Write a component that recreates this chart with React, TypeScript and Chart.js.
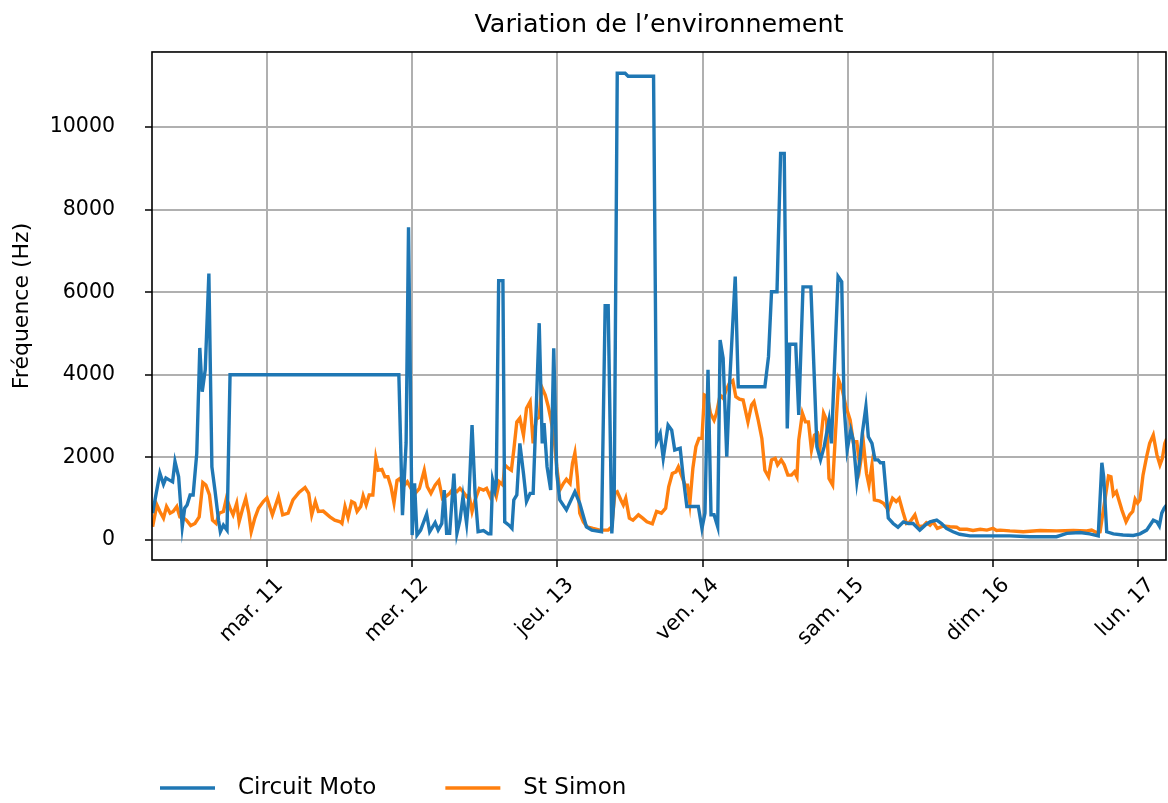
import React, { useEffect, useRef } from 'react';
import { Chart, registerables } from 'chart.js';

Chart.register(...registerables);

// Hours since Monday 10 March 00:00
const motoHours = [5.1,6.3,6.9,7.3,7.9,8.4,8.8,9.4,10.0,10.4,10.8,11.3,11.8,12.4,12.9,13.3,13.8,14.4,14.9,15.4,16.0,16.3,16.8,17.4,17.9,45.8,46.4,47.0,47.4,48.0,48.4,48.8,49.4,50.4,50.9,51.8,52.3,52.9,53.3,53.7,54.2,54.9,55.4,55.9,56.4,57.0,57.4,57.9,58.4,58.9,59.8,60.6,61.0,61.3,61.7,61.9,62.3,63.0,63.3,64.0,64.5,64.8,65.3,65.8,66.4,66.9,67.5,68.0,68.5,69.0,69.5,69.8,70.3,70.9,71.4,71.9,72.4,73.5,74.9,75.7,76.8,77.7,79.3,79.9,80.4,81.0,81.4,81.9,83.2,83.7,87.9,88.4,89.0,89.5,90.3,90.9,91.4,92.3,92.8,93.4,95.3,95.9,96.4,96.9,97.4,97.9,98.5,98.9,99.4,100.0,100.5,101.4,101.9,106.3,106.9,107.4,108.3,108.9,109.5,110.0,110.4,111.4,111.9,112.6,113.9,114.9,115.5,116.1,116.9,117.3,118.4,119.0,119.4,119.9,120.5,120.9,121.5,122.0,122.4,123.0,123.4,124.0,124.5,125.0,125.4,125.9,126.7,127.5,128.3,129.2,130.0,130.8,131.9,132.8,133.6,134.7,135.5,136.3,137.4,138.5,140.2,142.4,144.6,146.8,150.1,154.5,156.2,158.4,160.0,161.4,162.0,162.3,162.8,163.9,165.5,167.2,168.3,169.4,170.5,171.1,171.5,171.9,172.3,172.7];
const motoHz = [650,1620,1350,1500,1450,1410,1900,1530,320,770,850,1090,1090,2100,4650,3590,4120,6450,1770,1210,480,200,360,240,4000,4000,600,2350,7570,120,1370,120,240,630,200,420,240,400,1210,160,160,1610,160,480,1050,400,1090,2780,1130,200,230,150,150,1450,1210,1380,6280,6280,440,360,280,970,1090,2340,1610,930,1130,1130,3150,5250,2340,2830,1770,1210,4640,1610,970,730,1170,890,320,240,200,5670,5670,160,1130,11300,11300,11230,11230,2380,2580,1980,2780,2660,2180,2220,1530,810,810,280,650,4120,610,610,320,4840,4400,2020,3870,6380,3710,3710,4440,6010,6010,9360,9360,2700,4740,4740,3030,6130,6130,2260,1940,2260,2900,2340,6380,6250,3230,2180,2660,2420,1410,1940,2580,3230,2500,2340,1940,1940,1870,1870,530,400,310,440,400,400,240,360,440,480,400,280,200,140,100,100,100,100,80,80,160,180,150,100,1870,1530,200,150,120,110,150,240,480,440,340,650,770,850];

const simonHours = [5.1,5.8,6.3,6.9,7.4,8.0,8.5,9.1,9.6,10.2,10.7,11.4,12.1,12.8,13.4,13.9,14.5,15.0,15.6,16.1,16.8,17.3,17.9,18.4,19.0,19.4,20.0,20.5,21.0,21.4,22.0,22.6,23.4,24.0,24.9,25.9,26.6,27.5,28.3,29.3,30.3,30.9,31.4,32.0,32.5,33.3,34.4,35.2,36.1,36.4,36.9,37.4,38.0,38.5,38.9,39.5,39.9,40.4,40.9,41.5,42.0,42.4,43.0,43.5,44.0,44.5,45.0,45.5,46.0,46.5,47.2,47.8,48.5,49.2,50.0,50.5,51.1,51.8,52.4,53.0,53.7,54.2,54.7,55.4,55.9,56.4,57.0,57.4,57.9,58.4,59.1,59.8,60.3,60.9,61.4,61.9,62.4,63.0,63.3,63.9,64.4,64.8,65.3,65.8,66.4,66.9,67.5,68.0,68.5,69.0,69.4,70.0,70.5,70.9,71.5,71.9,72.4,73.0,73.5,74.1,74.5,74.9,75.3,75.7,76.3,76.9,77.9,79.0,80.4,81.0,81.5,81.9,82.5,82.9,83.3,83.9,84.5,85.4,86.1,86.8,87.7,88.4,89.2,89.9,90.4,91.0,91.6,92.0,92.5,93.1,93.5,93.9,94.4,94.9,95.4,95.9,96.3,96.8,97.3,97.9,98.3,98.9,99.4,99.9,100.4,101.0,101.5,102.1,102.7,103.5,104.1,104.5,105.2,105.8,106.3,106.9,107.4,108.0,108.4,109.0,109.5,110.1,110.7,111.2,111.6,111.9,112.5,113.0,113.5,114.0,114.5,115.0,115.4,116.0,116.5,116.9,117.5,118.0,118.5,119.1,119.7,120.4,120.9,121.5,122.0,122.6,123.1,123.5,124.0,124.4,125.3,125.9,126.7,127.4,128.0,128.5,129.1,129.7,130.3,131.1,131.7,132.5,133.0,133.6,134.1,134.8,135.8,136.9,138.0,138.5,139.7,140.7,141.9,143.0,144.0,144.6,145.2,146.8,149.0,151.8,154.5,157.3,159.5,160.3,161.1,161.7,162.5,163.1,163.5,163.9,164.4,165.3,166.0,166.6,167.1,167.5,167.9,168.3,168.8,169.4,169.9,170.5,171.1,171.6,172.0,172.4,172.7];
const simonHz = [320,850,690,530,810,650,690,810,560,530,480,350,400,560,1390,1330,1090,480,400,650,690,1010,770,610,890,440,770,1010,650,200,530,770,930,1020,610,1050,610,650,970,1150,1270,1130,610,930,690,700,560,480,440,400,810,550,930,890,690,810,1070,850,1090,1090,1980,1690,1710,1530,1530,1290,900,1440,1490,1290,1410,1250,1130,1250,1690,1290,1130,1330,1440,1010,1070,1130,1230,1170,1250,1170,1050,1090,690,970,1250,1210,1250,1050,1250,1050,1410,1330,1820,1740,1690,2180,2860,2950,2540,3190,3350,2340,2920,2970,3710,3510,3230,2950,2420,1770,1210,1370,1470,1370,1860,2110,1530,650,440,320,280,240,240,320,1130,1170,970,850,1010,530,480,610,530,440,390,690,650,770,1290,1610,1650,1770,1570,1330,1330,890,1740,2260,2460,2460,3510,3470,3070,2900,3070,3510,3430,3630,3790,3860,3470,3410,3390,2860,3270,3350,2900,2460,1690,1530,1940,1980,1820,1940,1820,1570,1570,1650,1530,2420,3070,2860,2860,2180,2540,2580,2220,3070,2900,1490,1330,2660,3870,3630,3230,2900,2380,2380,1770,2340,1610,1330,1820,970,940,890,730,1010,930,1010,690,400,440,610,320,340,420,360,440,280,340,320,310,260,260,230,260,240,280,230,240,220,200,230,220,230,220,240,180,200,970,1550,1530,1090,1170,730,440,610,690,990,890,970,1570,2020,2340,2540,2060,1820,1980,2340,2450];

const dayTickHours = [24, 48, 72, 96, 120, 144, 168];
const dayTickLabels = ['mar. 11', 'mer. 12', 'jeu. 13', 'ven. 14', 'sam. 15', 'dim. 16', 'lun. 17'];
const yTickValues = [0, 2000, 4000, 6000, 8000, 10000];
const seriesNames = ['Circuit Moto', 'St Simon'];

const FONT = '"DejaVu Sans", sans-serif';

export default function App() {
  const ref = useRef<HTMLCanvasElement>(null);

  useEffect(() => {
    const framePlugin = {
      id: 'frame',
      afterDraw(chart: any) {
        const { ctx, chartArea: a } = chart;
        ctx.save();
        ctx.strokeStyle = '#000';
        ctx.lineWidth = 1.6;
        ctx.strokeRect(a.left, a.top, a.right - a.left, a.bottom - a.top);
        // legend below the axis labels
        ctx.font = `23px ${FONT}`;
        ctx.textBaseline = 'middle';
        ctx.textAlign = 'left';
        let x = 160;
        const y = 788;
        chart.data.datasets.forEach((ds: any) => {
          ctx.strokeStyle = ds.borderColor;
          ctx.lineWidth = 3.5;
          ctx.beginPath();
          ctx.moveTo(x, y);
          ctx.lineTo(x + 55, y);
          ctx.stroke();
          ctx.fillStyle = '#000';
          ctx.fillText(ds.label, x + 78, y);
          x += 78 + ctx.measureText(ds.label).width + 69;
        });
        ctx.restore();
      },
    };

    const chart = new Chart(ref.current as HTMLCanvasElement, {
      type: 'line',
      data: {
        datasets: [
          {
            label: seriesNames[0],
            data: motoHours.map((h, i) => ({ x: h, y: motoHz[i] })),
            borderColor: '#1f77b4',
            backgroundColor: '#1f77b4',
            borderWidth: 3.4,
            pointRadius: 0,
            tension: 0,
            fill: false,
          },
          {
            label: seriesNames[1],
            data: simonHours.map((h, i) => ({ x: h, y: simonHz[i] })),
            borderColor: '#ff7f0e',
            backgroundColor: '#ff7f0e',
            borderWidth: 3.4,
            pointRadius: 0,
            tension: 0,
            fill: false,
          },
        ],
      },
      options: {
        animation: false,
        responsive: false,
        layout: { padding: { left: 0, right: 2, top: 0, bottom: 0 } },
        plugins: {
          legend: { display: false },
          tooltip: { enabled: false },
          title: {
            display: true,
            fullSize: false,
            text: 'Variation de l’environnement',
            color: '#000',
            font: { family: FONT, size: 25.4, weight: 'normal' },
            padding: { top: 9.8, bottom: 11.7 },
          },
        },
        scales: {
          x: {
            type: 'linear',
            min: 5.0,
            max: 172.6,
            afterBuildTicks: (s: any) => {
              s.ticks = dayTickHours.map((v) => ({ value: v }));
            },
            afterFit: (s: any) => {
              s.height = 243;
            },
            ticks: {
              autoSkip: false,
              maxRotation: 45,
              minRotation: 45,
              color: '#000',
              font: { family: FONT, size: 21 },
              padding: 6,
              labelOffset: 13,
              callback: (v: any) => {
                const i = dayTickHours.indexOf(Number(v));
                return i >= 0 ? dayTickLabels[i] : '';
              },
            },
            grid: { color: '#b0b0b0', lineWidth: 2, tickColor: '#000', tickLength: 7, tickWidth: 1.5 },
            border: { display: false },
          },
          y: {
            min: -484,
            max: 11816,
            afterBuildTicks: (s: any) => {
              s.ticks = yTickValues.map((v) => ({ value: v }));
            },
            afterFit: (s: any) => {
              s.width = 152;
            },
            ticks: {
              color: '#000',
              font: { family: FONT, size: 20.5 },
              padding: 30,
              callback: (v: any) => String(v),
            },
            grid: { color: '#b0b0b0', lineWidth: 2, tickColor: '#000', tickLength: 7, tickWidth: 1.5 },
            border: { display: false },
            title: {
              display: true,
              text: 'Fréquence (Hz)',
              color: '#000',
              font: { family: FONT, size: 22 },
              padding: { top: 9, bottom: 0 },
            },
          },
        },
      },
      plugins: [framePlugin],
    });

    return () => chart.destroy();
  }, []);

  return (
    <div style={{ position: 'absolute', left: 0, top: 0, width: 1168, height: 803, background: '#fff' }}>
      <canvas ref={ref} width={1168} height={803} style={{ display: 'block' }} />
    </div>
  );
}
